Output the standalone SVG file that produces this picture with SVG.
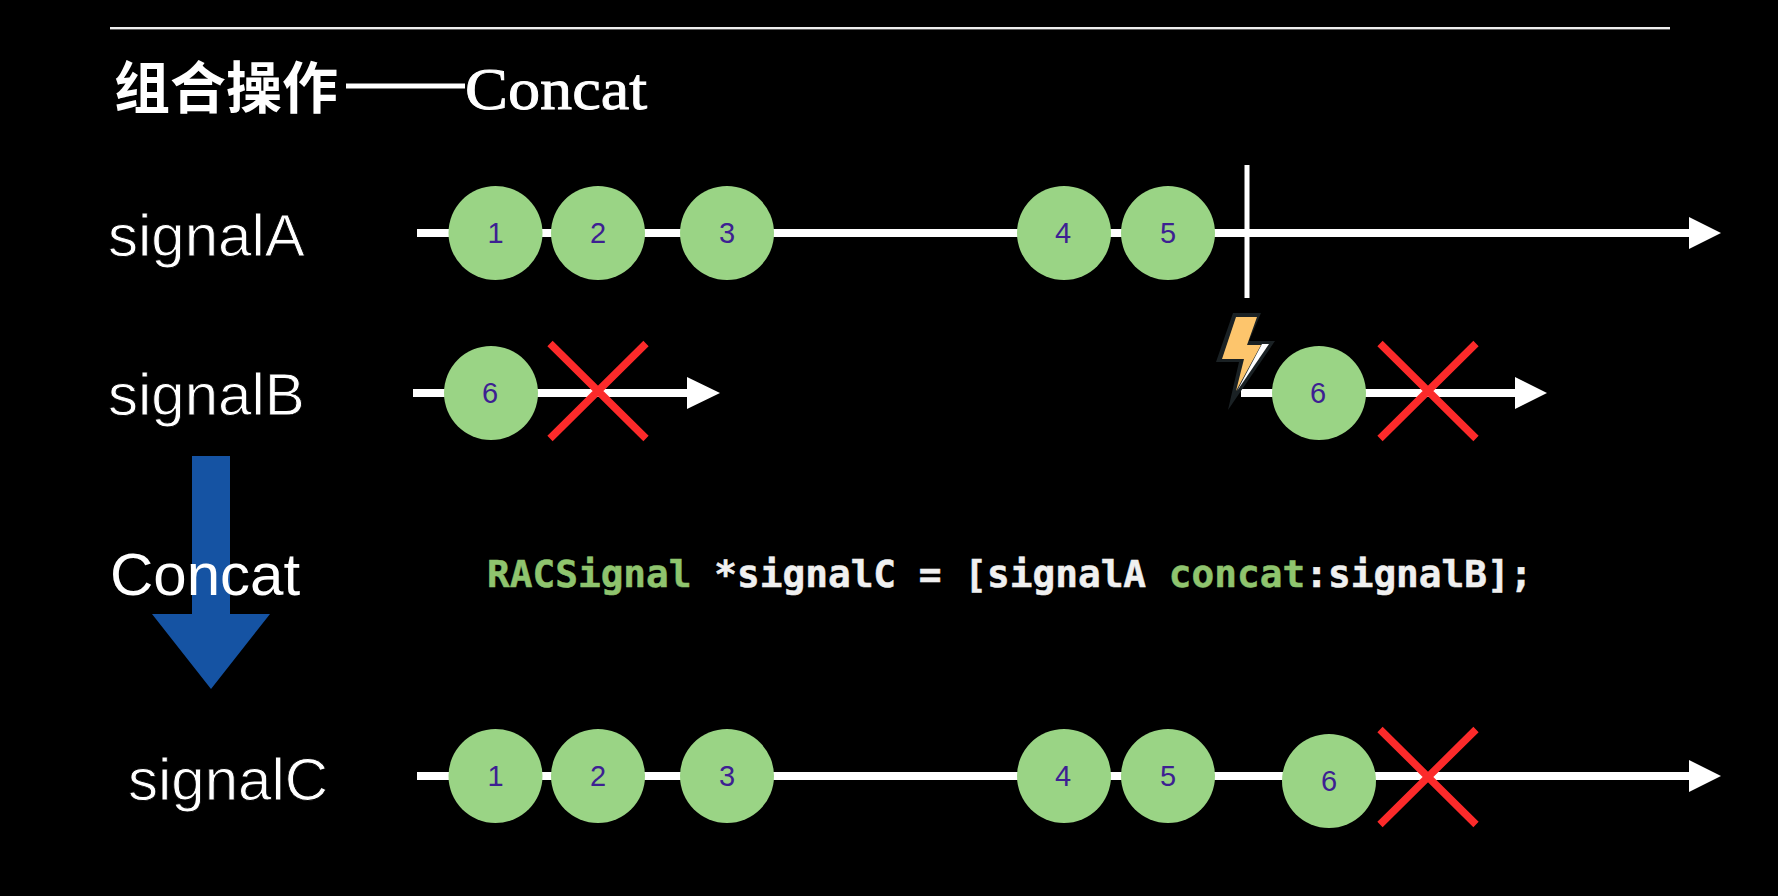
<svg xmlns="http://www.w3.org/2000/svg" width="1778" height="896" viewBox="0 0 1778 896">
<style>
.lbl{font-family:"Liberation Sans",Arial,sans-serif;font-size:60px;fill:#fff}
.thin{stroke:#000;stroke-width:.9;paint-order:fill stroke}
.num{font-family:"Liberation Sans",Arial,sans-serif;font-size:29px;fill:#3d2092;text-anchor:middle}
.code{font-family:"DejaVu Sans Mono",monospace;font-weight:700;font-size:37.75px;fill:#f0f0f0;stroke:#f0f0f0;stroke-width:.5}
.g{fill:#8fc46e;stroke:#8fc46e}
.c{fill:#9ad485}
.tl{stroke:#fff;stroke-width:8;fill:none}
.hd{fill:#fff}
.x{stroke:#fc2a2a;stroke-width:7.500;fill:none}
</style>
<defs>
<g id="cross"><path class="x" d="M-48-47.500L48 47.500M48-47.500L-48 47.500"/></g>
</defs>
<rect width="1778" height="896" fill="#000"/>
<g id="rule"><rect x="110" y="27" width="1560" height="2.4" fill="#eee"/></g>
<g id="title"><text x="114" y="108" style="font-family:'Noto Sans CJK SC',sans-serif;font-size:56px;font-weight:700;fill:#fff">组合操作</text><rect x="346" y="83.500" width="119" height="5" fill="#fff"/><text transform="translate(465 109) scale(1.09 1)" style="font-family:'Liberation Serif',serif;font-size:59px;fill:#fff;stroke:#fff;stroke-width:.9">Concat</text></g>
<g id="labels">
<text id="label-signalA" class="lbl thin" x="108" y="256">signalA</text>
<text id="label-signalB" class="lbl thin" x="108" y="415">signalB</text>
<text id="label-signalC" class="lbl thin" x="128" y="800">signalC</text>
</g>
<g id="transform-arrow"><path d="M192 456H230V614H270L211 689L152 614H192Z" fill="#1553a3"/></g>
<text id="label-concat" class="lbl" x="110" y="595">Concat</text>
<g id="connectors">
<path class="tl" d="M417 233H1690"/><path class="hd" d="M1689 217L1721 233L1689 249Z"/>
<path class="tl" d="M413 393H688"/><path class="hd" d="M687 377L720 393L687 409Z"/>
<path class="tl" d="M1241 393H1516"/><path class="hd" d="M1515 377L1547 393L1515 409Z"/>
<path class="tl" d="M417 776H1690"/><path class="hd" d="M1689 760L1721 776L1689 792Z"/>
<path d="M1247 165V298" stroke="#fff" stroke-width="5" fill="none"/>
</g>
<g id="a1"><circle class="c" cx="495.500" cy="233" r="47"/><text class="num" x="495.500" y="243">1</text></g>
<g id="a2"><circle class="c" cx="598" cy="233" r="47"/><text class="num" x="598" y="243">2</text></g>
<g id="a3"><circle class="c" cx="727" cy="233" r="47"/><text class="num" x="727" y="243">3</text></g>
<g id="a4"><circle class="c" cx="1064" cy="233" r="47"/><text class="num" x="1063" y="243">4</text></g>
<g id="a5"><circle class="c" cx="1168" cy="233" r="47"/><text class="num" x="1168" y="243">5</text></g>
<g id="b6"><circle class="c" cx="491" cy="393" r="47"/><text class="num" x="490" y="403">6</text></g>
<use id="b-end" href="#cross" x="598" y="391"/>
<g id="bolt">
<path d="M1233 313H1261L1249 341H1275L1228 410L1239 362H1216Z" fill="#1a2124"/>
<path d="M1236 317H1257L1247 345H1261L1236 391L1244 359H1222Z" fill="#fdc56c"/>
<path d="M1262 344H1269L1237 391Z" fill="#fff"/>
</g>
<g id="b6b"><circle class="c" cx="1319" cy="393" r="47"/><text class="num" x="1318" y="403">6</text></g>
<use id="b2-end" href="#cross" x="1428" y="391"/>
<g id="code"><text class="code" x="487" y="587"><tspan class="g">RACSignal</tspan> *signalC = [signalA <tspan class="g">concat</tspan>:signalB];</text></g>
<g id="c1"><circle class="c" cx="495.500" cy="776" r="47"/><text class="num" x="495.500" y="786">1</text></g>
<g id="c2"><circle class="c" cx="598" cy="776" r="47"/><text class="num" x="598" y="786">2</text></g>
<g id="c3"><circle class="c" cx="727" cy="776" r="47"/><text class="num" x="727" y="786">3</text></g>
<g id="c4"><circle class="c" cx="1064" cy="776" r="47"/><text class="num" x="1063" y="786">4</text></g>
<g id="c5"><circle class="c" cx="1168" cy="776" r="47"/><text class="num" x="1168" y="786">5</text></g>
<g id="c6"><circle class="c" cx="1329" cy="781" r="47"/><text class="num" x="1329" y="791">6</text></g>
<use id="c-end" href="#cross" x="1428" y="777"/>
</svg>
